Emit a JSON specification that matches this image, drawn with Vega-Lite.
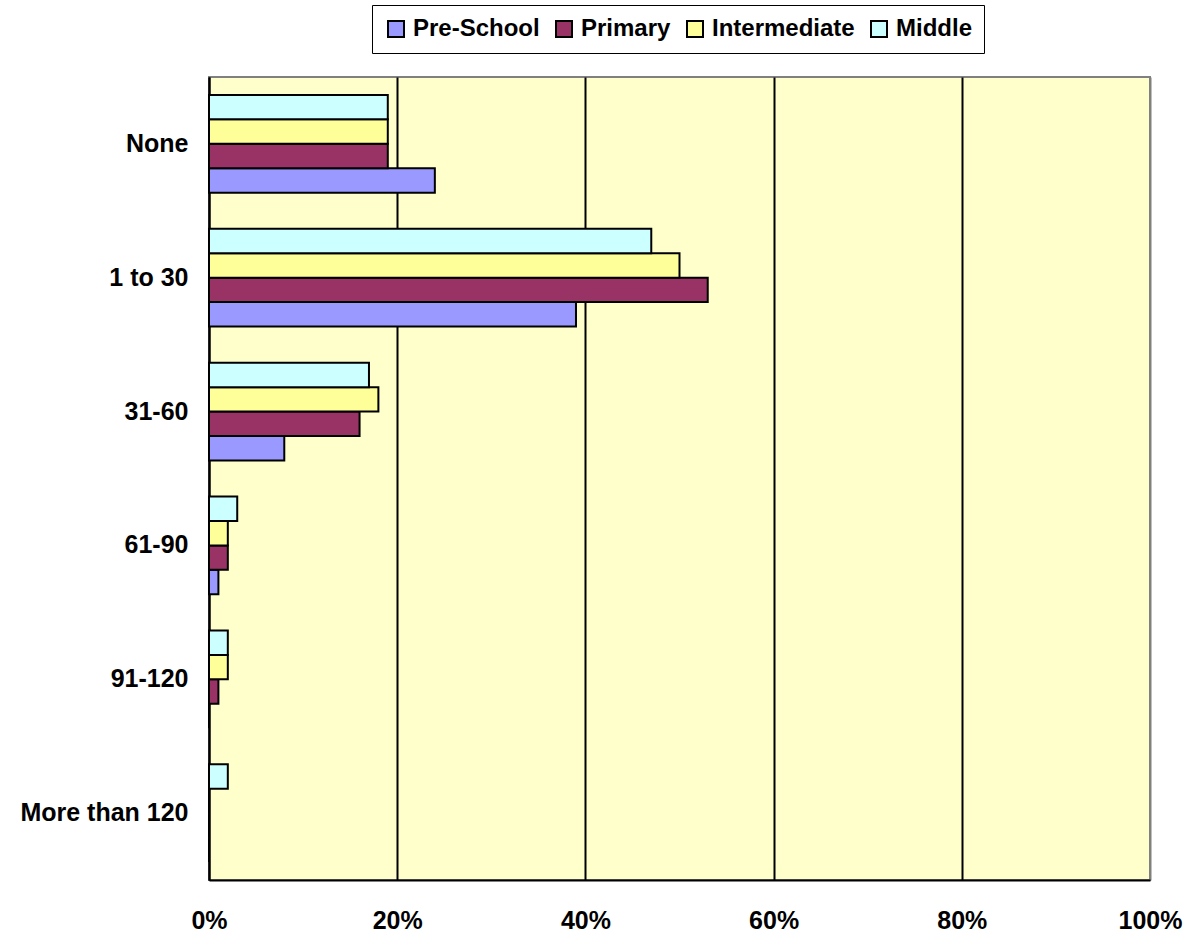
{
  "$schema": "https://vega.github.io/schema/vega-lite/v6.json",
  "autosize": {"type": "none"},
  "padding": {"left": 209, "top": 77, "right": 42, "bottom": 54},
  "width": 941,
  "height": 803,
  "background": "white",
  "config": {
    "font": "Liberation Sans",
    "view": {"fill": "#FFFFCC", "stroke": "#808080", "strokeWidth": 2}
  },
  "data": {
    "values": [
      {"category": "None", "level": "Pre-School", "value": 0.24},
      {"category": "None", "level": "Primary", "value": 0.19},
      {"category": "None", "level": "Intermediate", "value": 0.19},
      {"category": "None", "level": "Middle", "value": 0.19},
      {"category": "1 to 30", "level": "Pre-School", "value": 0.39},
      {"category": "1 to 30", "level": "Primary", "value": 0.53},
      {"category": "1 to 30", "level": "Intermediate", "value": 0.50},
      {"category": "1 to 30", "level": "Middle", "value": 0.47},
      {"category": "31-60", "level": "Pre-School", "value": 0.08},
      {"category": "31-60", "level": "Primary", "value": 0.16},
      {"category": "31-60", "level": "Intermediate", "value": 0.18},
      {"category": "31-60", "level": "Middle", "value": 0.17},
      {"category": "61-90", "level": "Pre-School", "value": 0.01},
      {"category": "61-90", "level": "Primary", "value": 0.02},
      {"category": "61-90", "level": "Intermediate", "value": 0.02},
      {"category": "61-90", "level": "Middle", "value": 0.03},
      {"category": "91-120", "level": "Pre-School", "value": 0.0},
      {"category": "91-120", "level": "Primary", "value": 0.01},
      {"category": "91-120", "level": "Intermediate", "value": 0.02},
      {"category": "91-120", "level": "Middle", "value": 0.02},
      {"category": "More than 120", "level": "Pre-School", "value": 0.0},
      {"category": "More than 120", "level": "Primary", "value": 0.0},
      {"category": "More than 120", "level": "Intermediate", "value": 0.0},
      {"category": "More than 120", "level": "Middle", "value": 0.02}
    ]
  },
  "mark": {"type": "bar", "stroke": "black", "strokeWidth": 2, "opacity": 1},
  "encoding": {
    "y": {
      "field": "category",
      "type": "nominal",
      "sort": ["None", "1 to 30", "31-60", "61-90", "91-120", "More than 120"],
      "title": null,
      "scale": {"paddingInner": 0.27, "paddingOuter": 0.134},
      "axis": {
        "domainColor": "black",
        "domainWidth": 2,
        "ticks": false,
        "labelFontSize": 25,
        "labelFontWeight": "bold",
        "labelColor": "black",
        "labelPadding": 21,
        "labelAlign": "right"
      }
    },
    "yOffset": {
      "field": "level",
      "type": "nominal",
      "sort": ["Middle", "Intermediate", "Primary", "Pre-School"],
      "scale": {"paddingInner": 0, "paddingOuter": 0}
    },
    "x": {
      "field": "value",
      "type": "quantitative",
      "scale": {"domain": [0, 1], "nice": false},
      "title": null,
      "axis": {
        "values": [0, 0.2, 0.4, 0.6, 0.8, 1],
        "format": ".0%",
        "domainColor": "black",
        "domainWidth": 2,
        "ticks": false,
        "grid": true,
        "gridColor": {"condition": {"test": "datum.value === 1", "value": "#808080"}, "value": "black"},
        "gridWidth": 2,
        "gridOpacity": 1,
        "labelFontSize": 25,
        "labelFontWeight": "bold",
        "labelColor": "black",
        "labelPadding": 28,
        "labelFlush": false,
        "labelOverlap": false
      }
    },
    "color": {
      "field": "level",
      "type": "nominal",
      "sort": ["Pre-School", "Primary", "Intermediate", "Middle"],
      "scale": {
        "domain": ["Pre-School", "Primary", "Intermediate", "Middle"],
        "range": ["#9999FF", "#993366", "#FFFF99", "#CCFFFF"]
      },
      "legend": {
        "title": null,
        "orient": "none",
        "legendX": 163,
        "legendY": -72,
        "direction": "horizontal",
        "strokeColor": "black",
        "fillColor": "white",
        "padding": 12,
        "symbolType": "square",
        "symbolSize": 256,
        "symbolStrokeColor": "black",
        "symbolStrokeWidth": 2,
        "symbolOpacity": 1,
        "labelFontSize": 24,
        "labelFontWeight": "bold",
        "labelColor": "black",
        "labelOffset": 5,
        "columnPadding": 12
      }
    }
  }
}
